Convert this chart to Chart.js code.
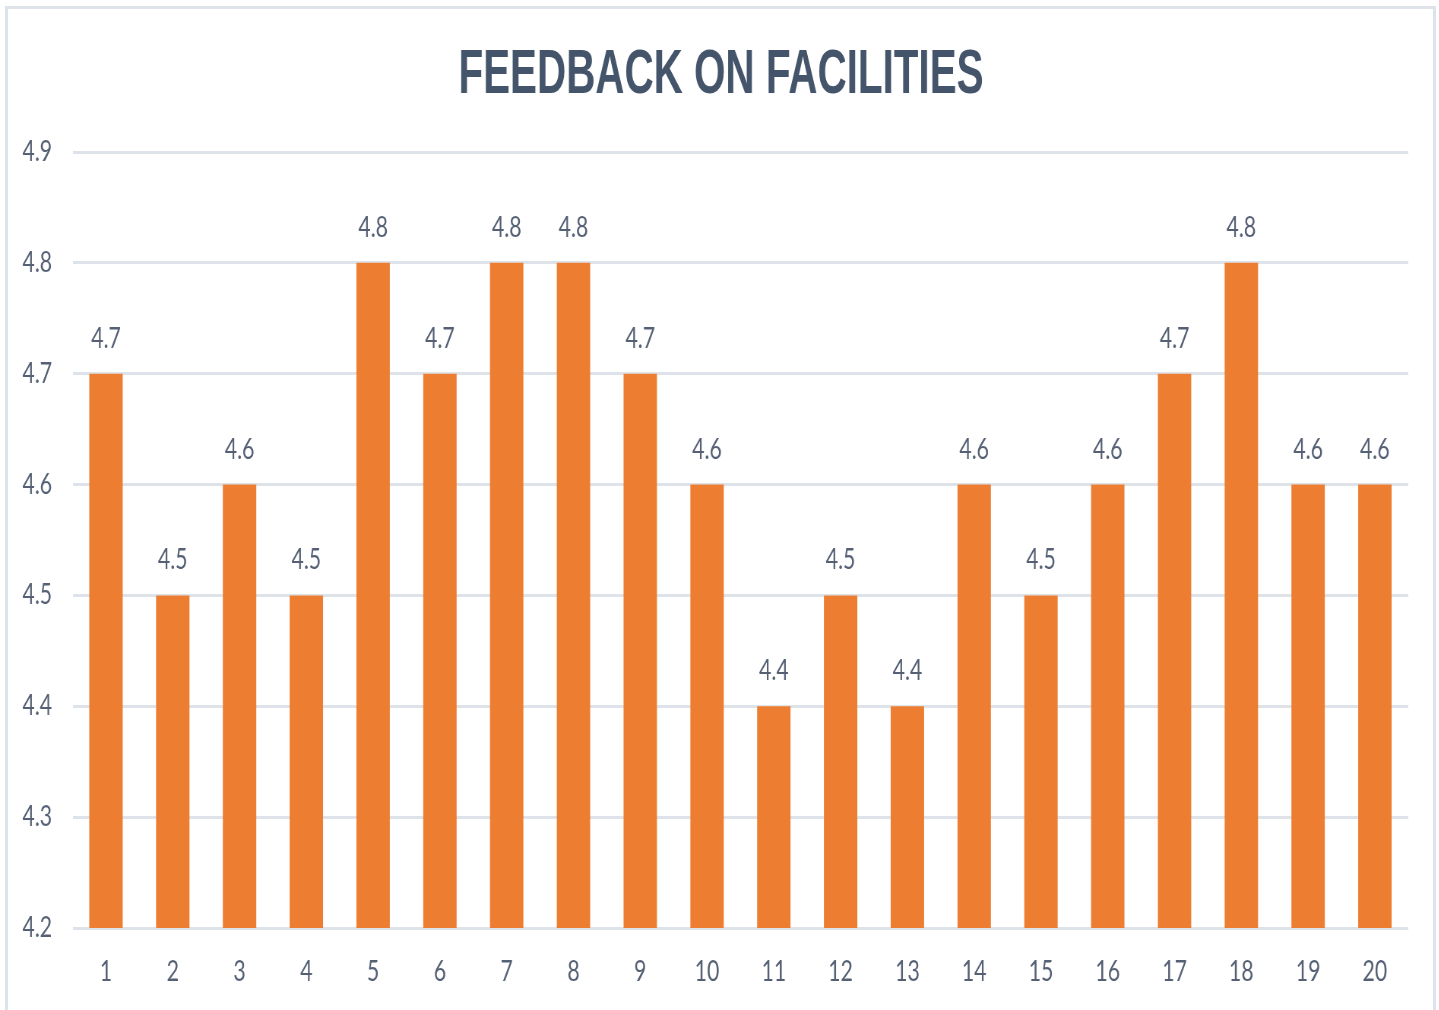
<!DOCTYPE html>
<html>
<head>
<meta charset="utf-8">
<title>Feedback on Facilities</title>
<script src="https://cdn.jsdelivr.net/npm/chart.js@4.4.0/dist/chart.umd.min.js"></script>
<style>
    html, body { margin: 0; padding: 0; background: #fff; overflow: hidden; }
    body { width: 1439px; height: 1010px; position: relative; }
    .frame {
        position: absolute; left: 5px; top: 6px;
        width: 1425px; height: 1030px;
        border: 3px solid #DEE3EA;
    }
    /* the original picture is squeezed sideways, so the canvas is drawn wide and scaled down */
    #chart {
        position: absolute; left: 0; top: 0;
        transform: scaleX(0.76); transform-origin: 0 0;
    }
</style>
</head>
<body>
<div class="frame"></div>
<canvas id="chart" width="1893" height="1010"></canvas>
<script>
// 数据
const chartTitle = 'FEEDBACK ON FACILITIES';
const categories = ['1', '2', '3', '4', '5', '6', '7', '8', '9', '10',
                    '11', '12', '13', '14', '15', '16', '17', '18', '19', '20'];
const scores = [4.7, 4.5, 4.6, 4.5, 4.8, 4.7, 4.8, 4.8, 4.7, 4.6,
                4.4, 4.5, 4.4, 4.6, 4.5, 4.6, 4.7, 4.8, 4.6, 4.6];
const yMin = 4.2;
const yMax = 4.9;

const textColor = '#556074';
const tickFont = { family: 'Lato, "Liberation Sans", sans-serif', size: 28 };

// 标题：字体比较窄，所以横向再压一点
const narrowTitle = {
    id: 'narrowTitle',
    afterDraw(chart) {
        const ctx = chart.ctx;
        ctx.save();
        ctx.font = 'bold 63px "Liberation Sans", Arial, sans-serif';
        ctx.fillStyle = '#44546A';
        ctx.textAlign = 'center';
        ctx.textBaseline = 'alphabetic';
        const w = ctx.measureText(chartTitle).width;
        const sx = 691 / w;
        const cx = 721 / 0.76;
        ctx.translate(cx, 93);
        ctx.scale(sx, 1);
        ctx.fillText(chartTitle, 0, 0);
        ctx.restore();
    }
};

// 在柱子上方写数值
const valueLabels = {
    id: 'valueLabels',
    afterDatasetsDraw(chart) {
        const ctx = chart.ctx;
        const meta = chart.getDatasetMeta(0);
        ctx.save();
        ctx.font = `${tickFont.size}px ${tickFont.family}`;
        ctx.fillStyle = textColor;
        ctx.textAlign = 'center';
        ctx.textBaseline = 'middle';
        meta.data.forEach((bar, i) => {
            ctx.fillText(scores[i].toFixed(1), bar.x, bar.y - 35);
        });
        ctx.restore();
    }
};

new Chart(document.getElementById('chart').getContext('2d'), {
    type: 'bar',
    data: {
        labels: categories,
        datasets: [{
            data: scores,
            backgroundColor: '#ED7D31',
            borderWidth: 0,
            barPercentage: 1,
            categoryPercentage: 0.5
        }]
    },
    options: {
        responsive: false,
        animation: false,
        layout: { padding: { left: 0, right: 40, top: 152, bottom: 0 } },
        plugins: {
            legend: { display: false },
            tooltip: { enabled: false },
            title: { display: false }
        },
        scales: {
            x: {
                grid: { display: false, drawTicks: false },
                border: { display: false },
                ticks: { color: textColor, font: tickFont, padding: 27, maxRotation: 0 },
                afterFit(scale) { scale.height = 82; }
            },
            y: {
                min: yMin,
                max: yMax,
                grid: { color: '#DEE3EA', lineWidth: 3, drawTicks: false },
                border: { display: false },
                ticks: {
                    stepSize: 0.1,
                    color: textColor,
                    font: tickFont,
                    padding: 27,
                    callback: v => Number(v).toFixed(1)
                },
                afterFit(scale) { scale.width = 95.5; }
            }
        }
    },
    plugins: [valueLabels, narrowTitle]
});
</script>
</body>
</html>
